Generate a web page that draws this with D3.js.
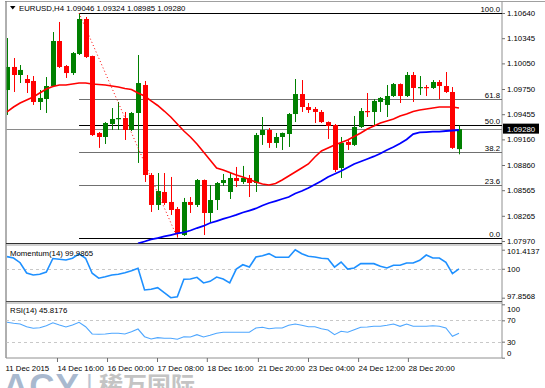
<!DOCTYPE html>
<html><head><meta charset="utf-8">
<script src="https://cdn.jsdelivr.net/npm/d3@7"></script>
<style>
body{margin:0;background:#fff;}
svg{display:block;font-family:"Liberation Sans",Arial,sans-serif;}
</style></head><body>
<svg id="c" width="545" height="388"></svg>
<script>
const symbol = "EURUSD,H4";
const opens = [1.09738,1.10008,1.09914,1.09867,1.09844,1.09598,1.09633,1.09785,1.10312,1.10019,
1.09937,1.10160,1.10570,1.10136,1.09235,1.09188,1.09340,1.09399,1.09410,1.09270,
1.09469,1.09797,1.08743,1.08392,1.08544,1.08427,1.08345,1.08040,1.08427,1.08392,
1.08684,1.08298,1.08450,1.08649,1.08544,1.08708,1.08661,1.08708,1.08649,1.09211,
1.09270,1.09118,1.09188,1.09223,1.09457,1.09691,1.09539,1.09516,1.09481,1.09363,
1.09328,1.08825,1.09130,1.09095,1.09305,1.09492,1.09481,1.09598,1.09563,1.09668,
1.09808,1.09668,1.09914,1.09762,1.09773,1.09762,1.09832,1.09785,1.09715,1.09046];
const highs = [1.10347,1.10113,1.10031,1.09914,1.09902,1.09738,1.09890,1.10417,1.10535,1.10031,
1.10183,1.10640,1.10593,1.10140,1.09246,1.09363,1.09527,1.09598,1.09481,1.09481,
1.10148,1.09844,1.08766,1.08766,1.08766,1.08720,1.08368,1.08474,1.08485,1.08696,
1.08690,1.08626,1.08661,1.08755,1.08766,1.08837,1.08849,1.08743,1.09235,1.09422,
1.09293,1.09235,1.09240,1.09469,1.09867,1.09855,1.09586,1.09539,1.09504,1.09370,
1.09340,1.09188,1.09165,1.09434,1.09527,1.09703,1.09633,1.09656,1.09797,1.09820,
1.09815,1.09949,1.09949,1.09902,1.09797,1.09855,1.09855,1.09949,1.09773,1.09324];
const lows = [1.09446,1.09715,1.09820,1.09703,1.09563,1.09504,1.09469,1.09773,1.09996,1.09879,
1.09914,1.10148,1.10113,1.09200,1.09060,1.09106,1.09270,1.09270,1.09153,1.09258,
1.08884,1.08661,1.08310,1.08333,1.08392,1.08275,1.08010,1.08029,1.08298,1.08368,
1.08040,1.08181,1.08333,1.08614,1.08462,1.08602,1.08638,1.08485,1.08544,1.09095,
1.09060,1.09060,1.09036,1.09071,1.09363,1.09481,1.09469,1.09352,1.09352,1.09165,
1.08778,1.08708,1.09036,1.09083,1.09293,1.09422,1.09328,1.09481,1.09422,1.09656,
1.09586,1.09656,1.09598,1.09680,1.09668,1.09750,1.09633,1.09703,1.09048,1.08985];
const closes = [1.10008,1.09914,1.09973,1.09820,1.09598,1.09645,1.09785,1.10312,1.10008,1.09937,
1.10171,1.10570,1.10125,1.09211,1.09188,1.09352,1.09399,1.09410,1.09270,1.09469,
1.09820,1.08743,1.08392,1.08555,1.08415,1.08333,1.08064,1.08427,1.08392,1.08684,
1.08298,1.08450,1.08649,1.08684,1.08708,1.08673,1.08708,1.08649,1.09211,1.09270,
1.09118,1.09188,1.09235,1.09457,1.09691,1.09539,1.09504,1.09481,1.09363,1.09317,
1.08802,1.09118,1.09095,1.09305,1.09492,1.09481,1.09610,1.09645,1.09668,1.09808,
1.09668,1.09914,1.09762,1.09773,1.09762,1.09832,1.09785,1.09715,1.09060,1.09280];
const maFast = [1.09481,1.09539,1.09586,1.09621,1.09656,1.09703,1.09750,1.09779,1.09797,1.09797,
1.09808,1.09820,1.09820,1.09808,1.09802,1.09797,1.09785,1.09773,1.09756,1.09744,
1.09703,1.09668,1.09610,1.09557,1.09492,1.09422,1.09340,1.09258,1.09188,1.09106,
1.09013,1.08919,1.08825,1.08802,1.08772,1.08743,1.08720,1.08690,1.08661,1.08638,
1.08626,1.08643,1.08684,1.08731,1.08778,1.08825,1.08872,1.08954,1.09024,1.09060,
1.09095,1.09124,1.09153,1.09194,1.09235,1.09282,1.09317,1.09352,1.09375,1.09399,
1.09434,1.09457,1.09487,1.09504,1.09516,1.09527,1.09539,1.09539,1.09539,1.09527];
const maSlowStart = 20;
const maSlow = [1.07941,1.07964,1.07988,1.08005,1.08023,1.08040,1.08058,1.08070,1.08093,1.08122,
1.08146,1.08181,1.08204,1.08228,1.08251,1.08275,1.08304,1.08327,1.08351,1.08386,
1.08415,1.08438,1.08462,1.08485,1.08526,1.08555,1.08591,1.08632,1.08673,1.08720,
1.08755,1.08790,1.08831,1.08872,1.08901,1.08930,1.08960,1.08995,1.09036,1.09071,
1.09112,1.09159,1.09223,1.09241,1.09246,1.09252,1.09252,1.09258,1.09264,1.09270];
const momentum = [100.90,100.80,100.45,99.69,99.54,99.59,99.76,100.76,100.70,100.65,
100.78,101.10,100.78,99.67,99.30,99.41,99.54,99.59,99.71,99.86,
100.04,98.43,98.48,98.60,98.23,97.8568,97.93,99.22,99.24,99.37,
98.95,99.07,99.39,99.24,98.95,99.98,100.30,100.13,100.87,100.97,
101.12,100.85,100.85,100.85,101.4137,101.12,100.93,100.87,100.78,100.75,
100.13,100.50,99.98,100.06,100.38,100.38,100.38,100.18,100.06,100.26,
100.26,100.43,100.43,100.63,101.02,100.80,100.80,100.48,99.64,99.9865];
const rsi = [66.3,64.4,63.1,58.1,55.1,56.2,59.9,65.5,61.2,57.5,
61.2,66.3,58.1,44.4,43.8,44.4,45.7,45.7,44.4,48.7,
53.7,39.3,35.0,37.5,36.3,36.3,34.5,39.3,38.8,43.1,
38.8,41.9,45.7,47.6,47.6,47.6,47.6,47.6,55.6,56.9,
54.3,55.6,55.6,60.7,63.1,60.7,58.1,58.1,54.3,51.9,
43.1,49.4,47.6,52.4,56.9,57.5,58.8,58.8,60.7,63.1,
58.8,63.1,58.8,58.8,58.8,59.9,58.8,55.6,40.1,45.8176];
const priceTicks = [1.10640,1.10345,1.10050,1.09750,1.09455,1.09160,1.08860,1.08565,1.08265,1.07970];
const momTicks = [101.4137,100,97.8568];
const momLevels = [100];
const rsiTicks = [100,70,30,0];
const rsiLevels = [70,30];
const fibLevels = [100.0,61.8,50.0,38.2,23.6,0.0];
const fibHighIdx = 11, fibLowIdx = 26;
const fibHigh = 1.10640, fibLow = 1.08010;
const timeLabels = ["11 Dec 2015","14 Dec 16:00","16 Dec 00:00","17 Dec 08:00","18 Dec 16:00","21 Dec 20:00","23 Dec 04:00","24 Dec 12:00","28 Dec 20:00"];
const timePos = [-0.3,7.63,15.27,22.9,30.5,38.3,45.95,53.6,61.2];

const n = closes.length;
const bars = d3.range(n).map(i => ({i, o:opens[i], h:highs[i], l:lows[i], c:closes[i]}));
const last = bars[n-1];

const svg = d3.select("#c");
const Lx = 6, Rx = 502;
const main = [2, 243.5], momP = [245, 301.5], rsiP = [303, 358];
const FONT = 7.8;

const x = d3.scaleLinear().domain([0, 69]).range([7, 459]);
const y = d3.scaleLinear().domain([1.07970, 1.10640]).range([241, 13]);
const yM = d3.scaleLinear().domain([97.8568, 101.4137]).range([297.7, 249.7]);
const yR = d3.scaleLinear().domain([0, 100]).range([357.7, 304.3]);

const defs = svg.append("defs");
function clip(id, p){ defs.append("clipPath").attr("id", id).append("rect")
  .attr("x", Lx+0.5).attr("y", p[0]).attr("width", Rx-Lx-0.5).attr("height", p[1]-p[0]); }
clip("cm", main); clip("cmo", momP); clip("cr", rsiP);

// frames
const frame = svg.append("g").attr("fill","none");
frame.append("line").attr("x1",5).attr("x2",545).attr("y1",1.5).attr("y2",1.5).attr("stroke","#a0a0a0");
frame.append("line").attr("x1",Lx).attr("x2",Lx).attr("y1",1.5).attr("y2",358).attr("stroke","#606060");
frame.append("line").attr("x1",Rx).attr("x2",Rx).attr("y1",1.5).attr("y2",358).attr("stroke","#909090");
[[243.5,"#303030"],[245,"#a0a0a0"],[301.5,"#505050"],[303,"#a0a0a0"],[358,"#909090"]].forEach(([yy,c])=>{
  frame.append("line").attr("x1",Lx).attr("x2",Rx).attr("y1",yy).attr("y2",yy).attr("stroke",c);
});

// main panel
const gm = svg.append("g").attr("clip-path","url(#cm)");
// fib lines
const fibX0 = x(fibHighIdx);
fibLevels.forEach(lv => {
  const p = fibLow + (fibHigh - fibLow) * lv / 100;
  const yy = Math.round(y(p)) + 0.5;
  const dark = (lv === 100 || lv === 50 || lv === 0);
  gm.append("line").attr("x1", fibX0).attr("x2", Rx).attr("y1", yy).attr("y2", yy)
    .attr("stroke", dark ? "#000" : "#707070").attr("stroke-width", 1);
  svg.append("text").attr("x", 500).attr("y", yy - 2).attr("text-anchor","end")
    .attr("font-size", FONT).attr("fill","#000").text(lv.toFixed(1));
});
// bid line
gm.append("line").attr("x1",Lx).attr("x2",Rx).attr("y1",Math.round(y(last.c))+0.5).attr("y2",Math.round(y(last.c))+0.5)
  .attr("stroke","#8a8a8a");

// candles
const cg = gm.append("g");
bars.forEach(b => {
  const col = b.c >= b.o ? "#008000" : "#ff0000";
  const cx = Math.round(x(b.i)) + 0.5;
  cg.append("line").attr("x1",cx).attr("x2",cx).attr("y1",y(b.h)).attr("y2",y(b.l)).attr("stroke",col);
  const top = Math.min(y(b.o), y(b.c)), ht = Math.max(1.2, Math.abs(y(b.o)-y(b.c)));
  cg.append("rect").attr("x",cx-2.5).attr("y",top).attr("width",5).attr("height",ht).attr("fill",col);
});
// moving averages
const lineMain = d3.line().x(d=>x(d[0])).y(d=>y(d[1]));
gm.append("path").datum(maFast.map((v,i)=>[i,v])).attr("d",lineMain)
  .attr("fill","none").attr("stroke","#ff0000").attr("stroke-width",1.6);
gm.append("path").datum(maSlow.map((v,i)=>[i+maSlowStart,v])).attr("d",lineMain)
  .attr("fill","none").attr("stroke","#0000ff").attr("stroke-width",1.8);
// fib trend line
gm.append("line").attr("x1",x(fibHighIdx)).attr("y1",y(fibHigh)).attr("x2",x(fibLowIdx)).attr("y2",y(fibLow))
  .attr("stroke","#ff0000").attr("stroke-dasharray","1,2.5");

// price axis
const ax = svg.append("g").attr("transform",`translate(${Rx},0)`)
  .call(d3.axisRight(y).tickValues(priceTicks).tickSize(3).tickPadding(2).tickFormat(d3.format(".5f")));
function styleAxis(g){
  g.select(".domain").remove();
  g.attr("font-family",null).attr("font-size",null);
  g.selectAll("text").attr("font-size",FONT).attr("fill","#000");
  g.selectAll(".tick line").attr("stroke","#707070");
}
styleAxis(ax);
// current price box
const by = y(last.c);
svg.append("rect").attr("x",Rx+1).attr("y",by-5.5).attr("width",36).attr("height",10).attr("fill","#000");
svg.append("text").attr("x",Rx+5).attr("y",by).attr("dy","0.32em").attr("font-size",FONT).attr("fill","#fff").text(last.c.toFixed(5));

// header
svg.append("path").attr("d","M10,6 L15.5,6 L12.75,9.5 Z").attr("fill","#000");
svg.append("text").attr("x",19).attr("y",11).attr("font-size",FONT).attr("fill","#000")
  .text(`${symbol}  ${last.o.toFixed(5)} ${last.h.toFixed(5)} ${last.l.toFixed(5)} ${last.c.toFixed(5)}`);

// momentum panel
const gmo = svg.append("g").attr("clip-path","url(#cmo)");
momLevels.forEach(v => gmo.append("line").attr("x1",Lx).attr("x2",Rx).attr("y1",Math.round(yM(v))+0.5).attr("y2",Math.round(yM(v))+0.5)
  .attr("stroke","#c8c8c8").attr("stroke-dasharray","3,3"));
gmo.append("path").datum(momentum.map((v,i)=>[i,v])).attr("d",d3.line().x(d=>x(d[0])).y(d=>yM(d[1])))
  .attr("fill","none").attr("stroke","#1e90ff").attr("stroke-width",1.6);
svg.append("text").attr("x",10).attr("y",256).attr("font-size",FONT).attr("fill","#000")
  .text(`Momentum(14) ${momentum[n-1].toFixed(4)}`);
const axM = svg.append("g").attr("transform",`translate(${Rx},0)`)
  .call(d3.axisRight(yM).tickValues(momTicks).tickSize(3).tickPadding(2).tickFormat(d=>String(d)));
styleAxis(axM);
axM.selectAll("text").attr("y", d => d === momTicks[0] ? 1.5 : (d === momTicks[2] ? -1.5 : 0));

// RSI panel
const gr = svg.append("g").attr("clip-path","url(#cr)");
rsiLevels.forEach(v => gr.append("line").attr("x1",Lx).attr("x2",Rx).attr("y1",Math.round(yR(v))+0.5).attr("y2",Math.round(yR(v))+0.5)
  .attr("stroke","#c8c8c8").attr("stroke-dasharray","3,3"));
gr.append("path").datum(rsi.map((v,i)=>[i,v])).attr("d",d3.line().x(d=>x(d[0])).y(d=>yR(d[1])))
  .attr("fill","none").attr("stroke","#4da6ff").attr("stroke-width",1.1);
svg.append("text").attr("x",10).attr("y",313).attr("font-size",FONT).attr("fill","#000")
  .text(`RSI(14) ${rsi[n-1].toFixed(4)}`);
const axR = svg.append("g").attr("transform",`translate(${Rx},0)`)
  .call(d3.axisRight(yR).tickValues(rsiTicks).tickSize(3).tickPadding(2).tickFormat(d=>String(d)));
styleAxis(axR);
axR.selectAll("text").attr("y", d => d === 100 ? 4.5 : (d === 0 ? -4.5 : 0));

// time axis
const axT = svg.append("g").attr("transform",`translate(0,${rsiP[1]})`)
  .call(d3.axisBottom(x).tickValues(timePos).tickSize(4).tickPadding(3).tickFormat((d,i)=>timeLabels[i]));
styleAxis(axT);
axT.selectAll("text").attr("text-anchor","start").attr("x",0);
axT.selectAll(".tick").filter((d,i)=>i===0).select("line").remove();

// watermark
const wm = svg.append("g");
wm.append("text").attr("x",3).attr("y",398).attr("font-size",35).attr("font-weight","bold")
  .attr("fill","#a9b9cf").attr("letter-spacing",1).text("ACY");
wm.append("text").attr("x",86).attr("y",393).attr("font-size",26)
  .attr("fill","#bcc6d4").text("|");
wm.append("text").attr("x",99).attr("y",394).attr("font-size",24).attr("font-weight","bold")
  .attr("font-family","'Noto Sans CJK SC'").attr("fill","#c4c4c4").attr("letter-spacing",0).text("稀万国际");
</script>
</body></html>
